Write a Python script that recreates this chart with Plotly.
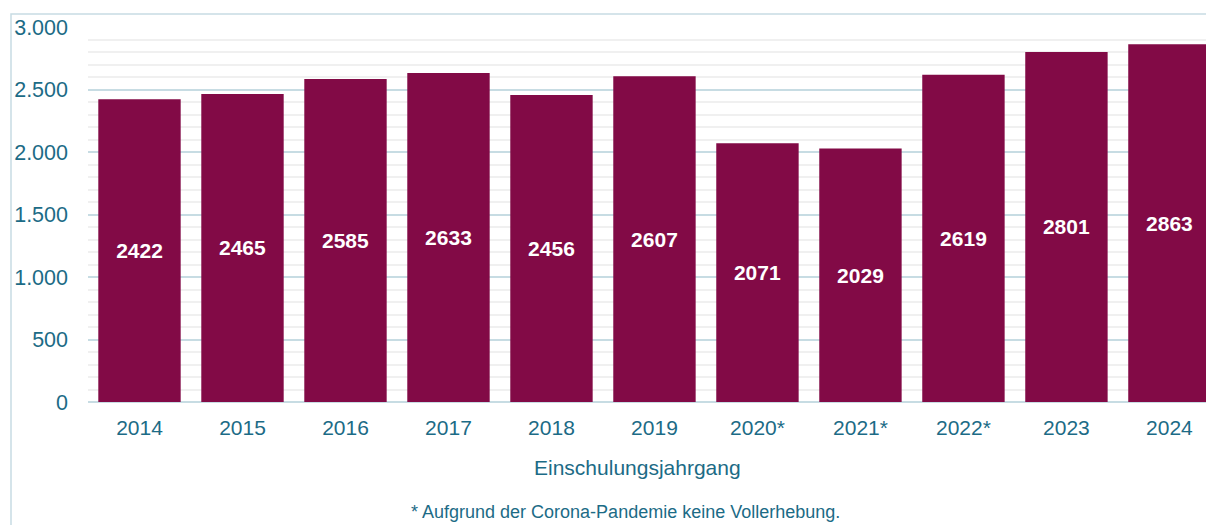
import plotly.graph_objects as go

years = ["2014", "2015", "2016", "2017", "2018", "2019", "2020*", "2021*", "2022*", "2023", "2024"]
counts = [2422, 2465, 2585, 2633, 2456, 2607, 2071, 2029, 2619, 2801, 2863]
x_title = "Einschulungsjahrgang"
footnote = "* Aufgrund der Corona-Pandemie keine Vollerhebung."

TEAL = "#1C6B86"
BAR = "#820A46"
GRID = "#C7DCE3"
MINOR = "#F0F0F0"
FONT = "Liberation Sans, Arial, sans-serif"

fig = go.Figure(go.Bar(
    x=years, y=counts,
    text=[str(v) for v in counts],
    textposition="inside", insidetextanchor="middle",
    textfont=dict(family=FONT, size=21, color="white", weight="bold"),
    marker=dict(color=BAR, line=dict(width=0)),
    hoverinfo="x+y",
))

fig.update_layout(
    width=1206, height=525,
    margin=dict(l=88, r=0, t=27, b=123),
    paper_bgcolor="white", plot_bgcolor="white",
    bargap=0.2,
    separators=",.",
    showlegend=False,
    font=dict(family=FONT, color=TEAL, size=21),
    xaxis=dict(type="category", range=[-0.5, 10.355], showgrid=False,
               ticks="", ticklabelstandoff=11, tickfont=dict(size=21, color=TEAL)),
    yaxis=dict(range=[0, 3000], dtick=500, tickformat=",d", showgrid=True,
               gridcolor=GRID, gridwidth=1.5, zeroline=True, zerolinecolor=GRID,
               zerolinewidth=1.5, ticks="", ticklabelstandoff=19,
               tickfont=dict(size=21.5, color=TEAL),
               minor=dict(dtick=100, showgrid=True, gridcolor=MINOR, gridwidth=1.5)),
    shapes=[dict(type="rect", xref="paper", yref="paper",
                 xsizemode="pixel", ysizemode="pixel", xanchor=0, yanchor=1,
                 x0=-77, x1=1400, y0=-600, y1=13,
                 line=dict(color=GRID, width=1.5), fillcolor="rgba(0,0,0,0)",
                 layer="below")],
    annotations=[
        dict(text=x_title, xref="paper", yref="paper",
             x=(637 - 88) / 1118, y=-(467 - 402) / 375, xanchor="center", yanchor="middle",
             showarrow=False, font=dict(size=21, color=TEAL, family=FONT)),
        dict(text=footnote, xref="paper", yref="paper",
             x=(625 - 88) / 1118, y=-(512 - 402) / 375, xanchor="center", yanchor="middle",
             showarrow=False, font=dict(size=18, color=TEAL, family=FONT)),
    ],
)

fig.write_html("out.html", config={"displayModeBar": False},
               post_script="document.body.style.margin='0';")
